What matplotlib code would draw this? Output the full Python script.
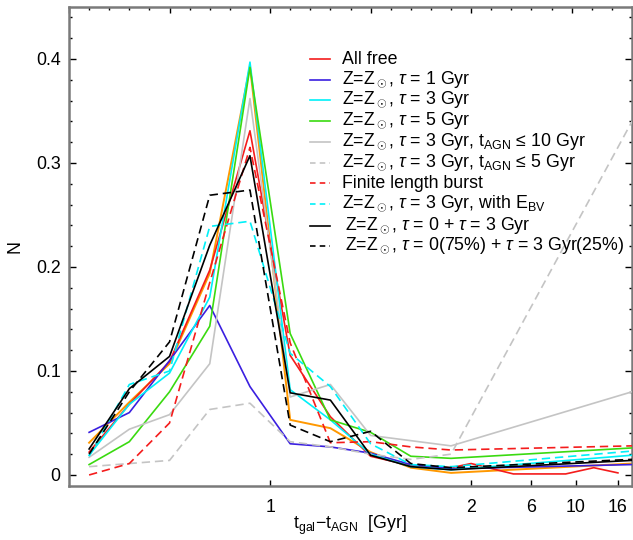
import matplotlib

matplotlib.use("Agg")
import matplotlib.pyplot as plt
from matplotlib.ticker import MultipleLocator, NullFormatter

plt.rcParams["font.family"] = ["Liberation Sans", "DejaVu Sans"]
plt.rcParams["mathtext.fontset"] = "custom"
plt.rcParams["mathtext.rm"] = "Liberation Sans"
plt.rcParams["mathtext.it"] = "Liberation Sans:italic"
plt.rcParams["mathtext.sf"] = "Liberation Sans"
plt.rcParams["lines.scale_dashes"] = False

# x positions are in axis units: linear 0-2, compressed beyond 2
BIN_X = [0.1, 0.3, 0.5, 0.7, 0.9, 1.1, 1.3, 1.5, 1.7, 1.9, 2.8]
RED_X = [0.1, 0.3, 0.5, 0.7, 0.9, 1.1, 1.3, 1.5, 1.7, 1.9, 2.0, 2.21, 2.47, 2.61, 2.73]

all_free = [0.022, 0.068, 0.109, 0.197, 0.331, 0.115, 0.056, 0.018, 0.009, 0.007,
            0.011, 0.001, 0.001, 0.007, 0.002]
tau1 = [0.041, 0.060, 0.110, 0.163, 0.085, 0.030, 0.027, 0.021, 0.010, 0.006, 0.010]
tau3 = [0.019, 0.068, 0.098, 0.171, 0.397, 0.082, 0.053, 0.020, 0.008, 0.005, 0.019]
tau5 = [0.010, 0.032, 0.080, 0.143, 0.392, 0.136, 0.053, 0.041, 0.018, 0.016, 0.026]
tagn10 = [0.017, 0.044, 0.058, 0.107, 0.362, 0.075, 0.087, 0.038, 0.033, 0.028, 0.080]
tagn5 = [0.008, 0.011, 0.014, 0.063, 0.069, 0.032, 0.027, 0.020, 0.015, 0.020, 0.340]
finite = [0.000, 0.011, 0.050, 0.185, 0.315, 0.127, 0.031, 0.032, 0.027, 0.024, 0.028]
ebv = [0.018, 0.087, 0.100, 0.239, 0.244, 0.117, 0.085, 0.030, 0.010, 0.008, 0.023]
two_pop = [0.025, 0.083, 0.114, 0.221, 0.307, 0.079, 0.072, 0.019, 0.008, 0.005, 0.014]
two_pop_75 = [0.020, 0.080, 0.128, 0.269, 0.274, 0.048, 0.032, 0.042, 0.011, 0.007, 0.015]
orange_run = [0.031, 0.070, 0.107, 0.194, 0.393, 0.053, 0.045, 0.022, 0.007, 0.002, 0.011]

TICK_POS = [1, 2, 2.3, 2.52, 2.73]
TICK_LAB = ["1", "2", "6", "10", "16"]

RED = "#f41c1c"
BLUE = "#3a1fe0"
CYAN = "#00f0f8"
GREEN = "#3ada10"
GRAY = "#c4c4c4"
ORANGE = "#ff9800"
DASH = (6, 3.5)
LW = 1.2
FS = 12.8

series = [
    (RED_X, all_free, RED, "-", "All free"),
    (BIN_X, tau1, BLUE, "-", r"Z=Z$_\odot$, $\tau$ = 1 Gyr"),
    (BIN_X, tau3, CYAN, "-", r"Z=Z$_\odot$, $\tau$ = 3 Gyr"),
    (BIN_X, tau5, GREEN, "-", r"Z=Z$_\odot$, $\tau$ = 5 Gyr"),
    (BIN_X, tagn10, GRAY, "-", r"Z=Z$_\odot$, $\tau$ = 3 Gyr, t$_{\rm AGN}$ ≤ 10 Gyr"),
    (BIN_X, tagn5, GRAY, "--", r"Z=Z$_\odot$, $\tau$ = 3 Gyr, t$_{\rm AGN}$ ≤ 5 Gyr"),
    (BIN_X, finite, RED, "--", "Finite length burst"),
    (BIN_X, ebv, CYAN, "--", r"Z=Z$_\odot$, $\tau$ = 3 Gyr, with E$_{\rm BV}$"),
    (BIN_X, two_pop, "black", "-", r"Z=Z$_\odot$, $\tau$ = 0 + $\tau$ = 3 Gyr"),
    (BIN_X, two_pop_75, "black", "--", r"Z=Z$_\odot$, $\tau$ = 0(75%) + $\tau$ = 3 Gyr(25%)"),
]

fig = plt.figure(figsize=(6.33, 5.4), dpi=100)
ax = fig.add_axes([69 / 633, 1 - 486 / 540, 563 / 633, 479 / 540])

ax.plot(BIN_X, orange_run, color=ORANGE, lw=LW + 0.2, zorder=2)
for xs, ys, col, ls, lab in series:
    line, = ax.plot(xs, ys, color=col, lw=LW, zorder=3)
    if ls == "--":
        line.set_dashes(DASH)

ax.set_xlim(0, 2.8)
ax.set_ylim(-0.0106, 0.45)
ax.set_xticks(TICK_POS, TICK_LAB)
ax.yaxis.set_major_locator(MultipleLocator(0.1))
ax.yaxis.set_minor_locator(MultipleLocator(0.02))
ax.set_yticks([0, 0.1, 0.2, 0.3, 0.4], ["0", "0.1", "0.2", "0.3", "0.4"])
ax.tick_params(axis="x", direction="in", length=4, width=1, labelsize=FS, pad=9)
ax.tick_params(axis="y", which="major", direction="in", length=5, width=1,
               labelsize=FS, right=True, pad=6)
ax.tick_params(axis="y", which="minor", direction="in", length=2.5, width=1, right=True)

top = ax.secondary_xaxis("top")
top.xaxis.set_major_locator(MultipleLocator(0.5))
top.xaxis.set_minor_locator(MultipleLocator(0.1))
top.xaxis.set_major_formatter(NullFormatter())
top.tick_params(which="major", direction="in", length=4, width=1)
top.tick_params(which="minor", direction="in", length=2.5, width=1)
top.spines["top"].set_visible(False)

for sp in ax.spines.values():
    sp.set_color("#7a7a7a")
    sp.set_linewidth(1.8)

ax.set_xlabel(r"t$_{\rm gal}$−t$_{\rm AGN}$  [Gyr]", fontsize=FS, labelpad=-1)
ax.set_ylabel("N", fontsize=FS, labelpad=9)

# hand-placed legend rows (axes fraction)
row_y = [59, 80, 100, 121, 142, 163, 183, 204, 226, 246]
for (xs, ys, col, ls, lab), py in zip(series, row_y):
    yy = (486 - py) / 479
    text_px = 345 if col == "black" else 342
    h, = ax.plot([(310 - 69) / 563, (330 - 69) / 563], [yy, yy], color=col, lw=LW,
                 transform=ax.transAxes, clip_on=False)
    if ls == "--":
        h.set_dashes((4, 3))
    ax.text((text_px - 69) / 563, yy, lab, transform=ax.transAxes, fontsize=FS,
            va="center", ha="left")

fig.savefig("out.png", dpi=100)
